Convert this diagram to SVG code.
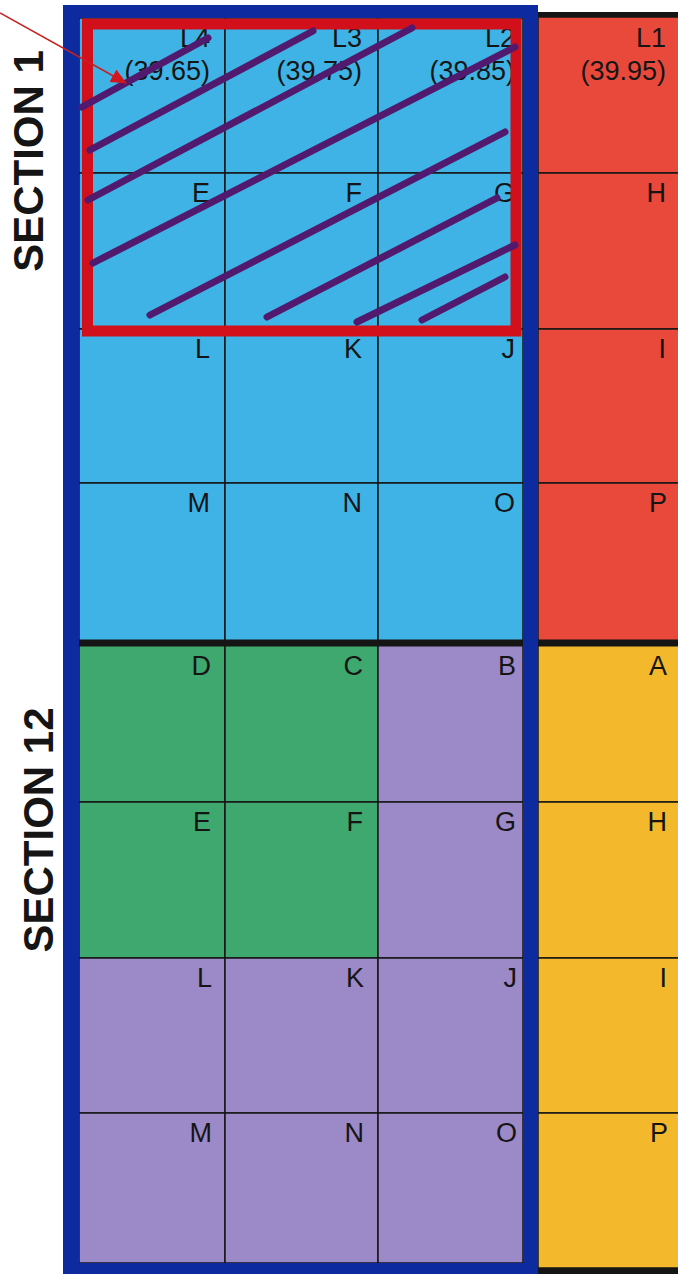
<svg xmlns="http://www.w3.org/2000/svg" width="678" height="1274" viewBox="0 0 678 1274">
<style>
.c{stroke:#161616;stroke-width:1.5}
.lb{fill:#3fb3e5}.rd{fill:#e8493b}.gr{fill:#3fa86f}.pu{fill:#9c89c7}.ye{fill:#f4b82c}
.t{font-family:"Liberation Sans",Arial,sans-serif;font-size:27px;fill:#151515;text-anchor:end}
.sec{font-family:"Liberation Sans",Arial,sans-serif;font-size:42px;font-weight:bold;fill:#151515;text-anchor:middle}
.fr{fill:#0d2a9e}
.hatch{stroke:#521a6e;stroke-width:7;stroke-linecap:round;fill:none}
</style>
<defs>
<marker id="ah" markerWidth="16" markerHeight="14" refX="15" refY="7" orient="auto" markerUnits="userSpaceOnUse">
<path d="M0,0 L16,7 L0,14 Z" fill="#d0181c"/>
</marker>
</defs>
<rect width="678" height="1274" fill="#ffffff"/>
<g id="section1">
<g id="s1-L4"><rect class="c lb" x="79" y="18" width="146" height="155"/><text class="t" x="210" y="47">L4</text><text class="t" x="210" y="80">(39.65)</text></g>
<g id="s1-L3"><rect class="c lb" x="225" y="18" width="153" height="155"/><text class="t" x="362" y="47">L3</text><text class="t" x="362" y="80">(39.75)</text></g>
<g id="s1-L2"><rect class="c lb" x="378" y="18" width="145" height="155"/><text class="t" x="515" y="47">L2</text><text class="t" x="515" y="80">(39.85)</text></g>
<g id="s1-L1"><rect class="c rd" x="538" y="17" width="152" height="156"/><text class="t" x="666" y="47">L1</text><text class="t" x="666" y="80">(39.95)</text></g>
<g id="s1-E"><rect class="c lb" x="79" y="173" width="146" height="156"/><text class="t" x="210" y="202">E</text></g>
<g id="s1-F"><rect class="c lb" x="225" y="173" width="153" height="156"/><text class="t" x="362" y="202">F</text></g>
<g id="s1-G"><rect class="c lb" x="378" y="173" width="145" height="156"/><text class="t" x="515" y="202">G</text></g>
<g id="s1-H"><rect class="c rd" x="538" y="173" width="152" height="156"/><text class="t" x="666" y="202">H</text></g>
<g id="s1-L"><rect class="c lb" x="79" y="329" width="146" height="154"/><text class="t" x="210" y="358">L</text></g>
<g id="s1-K"><rect class="c lb" x="225" y="329" width="153" height="154"/><text class="t" x="362" y="358">K</text></g>
<g id="s1-J"><rect class="c lb" x="378" y="329" width="145" height="154"/><text class="t" x="515" y="358">J</text></g>
<g id="s1-I"><rect class="c rd" x="538" y="329" width="152" height="154"/><text class="t" x="666" y="358">I</text></g>
<g id="s1-M"><rect class="c lb" x="79" y="483" width="146" height="160"/><text class="t" x="210" y="512">M</text></g>
<g id="s1-N"><rect class="c lb" x="225" y="483" width="153" height="160"/><text class="t" x="362" y="512">N</text></g>
<g id="s1-O"><rect class="c lb" x="378" y="483" width="145" height="160"/><text class="t" x="515" y="512">O</text></g>
<g id="s1-P"><rect class="c rd" x="538" y="483" width="152" height="160"/><text class="t" x="667" y="512">P</text></g>
</g>
<g id="section12">
<g id="s12-D"><rect class="c gr" x="79" y="643" width="146" height="159"/><text class="t" x="211" y="675">D</text></g>
<g id="s12-C"><rect class="c gr" x="225" y="643" width="153" height="159"/><text class="t" x="363" y="675">C</text></g>
<g id="s12-B"><rect class="c pu" x="378" y="643" width="145" height="159"/><text class="t" x="516" y="675">B</text></g>
<g id="s12-A"><rect class="c ye" x="538" y="643" width="152" height="159"/><text class="t" x="667" y="675">A</text></g>
<g id="s12-E"><rect class="c gr" x="79" y="802" width="146" height="156"/><text class="t" x="211" y="831">E</text></g>
<g id="s12-F"><rect class="c gr" x="225" y="802" width="153" height="156"/><text class="t" x="363" y="831">F</text></g>
<g id="s12-G"><rect class="c pu" x="378" y="802" width="145" height="156"/><text class="t" x="516" y="831">G</text></g>
<g id="s12-H"><rect class="c ye" x="538" y="802" width="152" height="156"/><text class="t" x="667" y="831">H</text></g>
<g id="s12-L"><rect class="c pu" x="79" y="958" width="146" height="155"/><text class="t" x="212" y="987">L</text></g>
<g id="s12-K"><rect class="c pu" x="225" y="958" width="153" height="155"/><text class="t" x="364" y="987">K</text></g>
<g id="s12-J"><rect class="c pu" x="378" y="958" width="145" height="155"/><text class="t" x="517" y="987">J</text></g>
<g id="s12-I"><rect class="c ye" x="538" y="958" width="152" height="155"/><text class="t" x="667" y="987">I</text></g>
<g id="s12-M"><rect class="c pu" x="79" y="1113" width="146" height="150"/><text class="t" x="212" y="1142">M</text></g>
<g id="s12-N"><rect class="c pu" x="225" y="1113" width="153" height="150"/><text class="t" x="364" y="1142">N</text></g>
<g id="s12-O"><rect class="c pu" x="378" y="1113" width="145" height="150"/><text class="t" x="517" y="1142">O</text></g>
<g id="s12-P"><rect class="c ye" x="538" y="1113" width="152" height="155"/><text class="t" x="668" y="1142">P</text></g>
</g>
<g id="borders">
<rect x="79" y="639.5" width="611" height="7" fill="#151515"/>
<rect x="538" y="12" width="140" height="5" fill="#151515"/>
<rect x="538" y="1268" width="140" height="6" fill="#151515"/>
<rect class="fr" x="63" y="5" width="475" height="13"/>
<rect class="fr" x="63" y="5" width="16" height="1269"/>
<rect class="fr" x="523" y="5" width="15" height="1269"/>
<rect class="fr" x="63" y="1263" width="475" height="11"/>
</g>
<g id="labels">
<text class="sec" transform="translate(43,161) rotate(-90)">SECTION 1</text>
<text class="sec" transform="translate(53,830) rotate(-90)">SECTION 12</text>
</g>
<g id="highlight">
<rect x="87.5" y="24" width="428.5" height="307" fill="none" stroke="#d2101c" stroke-width="11"/>
<path class="hatch" d="M82,107 L208,38 M90,150 L313,31 M88,200 L412,28 M93,263 L515,47 M150,315 L505,132 M267,317 L497,198 M357,322 L515,245 M422,320 L505,277"/>
</g>
<g id="connectors">
<line x1="0" y1="13" x2="126" y2="83" stroke="#c8201e" stroke-width="1.5" marker-end="url(#ah)"/>
</g>
</svg>
